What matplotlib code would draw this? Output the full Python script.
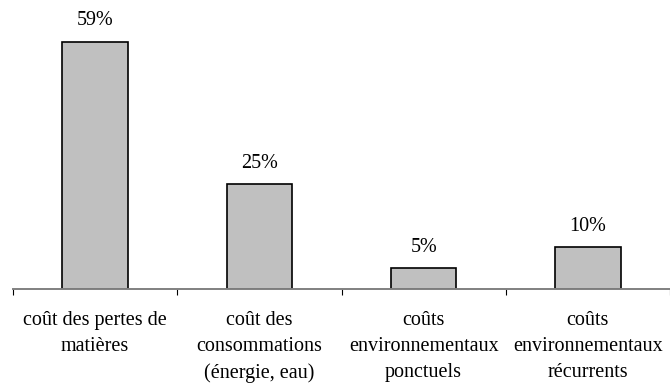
import matplotlib
matplotlib.use("Agg")
import matplotlib.pyplot as plt

# data
categories = [
    "coût des pertes de\nmatières",
    "coût des\nconsommations\n(énergie, eau)",
    "coûts\nenvironnementaux\nponctuels",
    "coûts\nenvironnementaux\nrécurrents",
]
shares = [59, 25, 5, 10]
share_labels = ["59%", "25%", "5%", "10%"]

plt.rcParams['font.family'] = ['Liberation Serif', 'DejaVu Serif']

fig = plt.figure(figsize=(6.7, 3.83), dpi=100)
# axis line sits at 289 px from top, category slots are 167 px wide
ax = fig.add_axes([13 / 670, (383 - 289) / 383, 657 / 670, 289 / 383])

x = range(len(shares))
bars = ax.bar(x, shares, width=0.4, color='#C0C0C0', edgecolor='black', linewidth=1.2)

for b, lab in zip(bars, share_labels):
    ax.annotate(lab, (b.get_x() + b.get_width() / 2, b.get_height()),
                xytext=(0, 15), textcoords='offset points',
                ha='center', va='center', fontsize=14.5)

ax.set_xlim(-0.5, -0.5 + 657 / 167)
ax.set_ylim(0, 289 / 4.19)

# category labels on major ticks (hidden), separators as minor ticks
ax.set_xticks(list(x))
ax.set_xticklabels(categories, fontsize=14.5, linespacing=1.5)
ax.tick_params(axis='x', which='major', length=0, pad=16)
ax.set_xticks([i - 0.5 for i in range(len(shares) + 1)], minor=True)
ax.tick_params(axis='x', which='minor', length=4.5, width=0.8, color='black', direction='out')

ax.set_yticks([])
for side in ['top', 'right', 'left']:
    ax.spines[side].set_visible(False)
ax.spines['bottom'].set_color('#808080')
ax.spines['bottom'].set_linewidth(1.4)

fig.savefig("out.png", dpi=100)
